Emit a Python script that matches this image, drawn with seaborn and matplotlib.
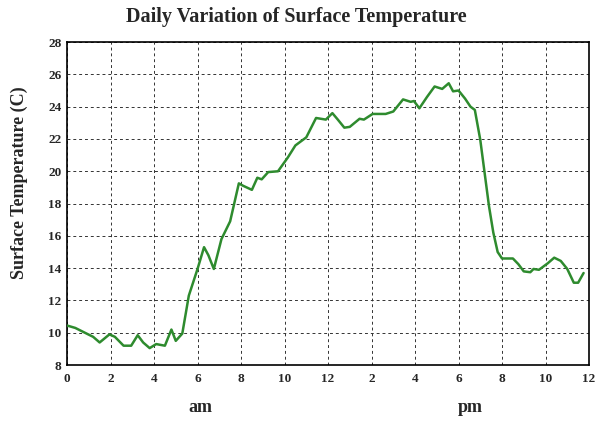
"""Daily variation of surface temperature, redrawn with seaborn."""

import pandas as pd
import matplotlib
matplotlib.use("Agg")
import matplotlib.pyplot as plt
import seaborn as sns
from matplotlib.ticker import MultipleLocator

# hours since midnight
hours = [0.0, 0.38, 0.9, 1.2, 1.5, 1.95, 2.2, 2.6, 2.95, 3.25, 3.5, 3.8, 4.1,
         4.5, 4.8, 5.0, 5.3, 5.6, 6.0, 6.3, 6.5, 6.75, 7.1, 7.5, 7.9, 8.1,
         8.5, 8.75, 8.95, 9.25, 9.7, 10.15, 10.5, 11.0, 11.45, 11.9, 12.2,
         12.45, 12.75, 13.0, 13.45, 13.65, 14.05, 14.65, 15.0, 15.45, 15.8,
         15.95, 16.2, 16.55, 16.9, 17.25, 17.55, 17.75, 18.0, 18.3, 18.55,
         18.75, 19.0, 19.2, 19.4, 19.6, 19.8, 20.0, 20.5, 20.75, 21.0, 21.3,
         21.45, 21.7, 22.1, 22.4, 22.7, 23.0, 23.3, 23.5, 23.75]
temps = [10.45, 10.3, 9.95, 9.75, 9.4, 9.9, 9.75, 9.2, 9.2, 9.85, 9.4, 9.05,
         9.3, 9.2, 10.2, 9.5, 9.95, 12.3, 13.95, 15.3, 14.8, 13.95, 15.8,
         16.9, 19.25, 19.1, 18.85, 19.6, 19.5, 19.95, 20.0, 20.85, 21.6,
         22.1, 23.3, 23.2, 23.6, 23.2, 22.7, 22.75, 23.25, 23.2, 23.55,
         23.55, 23.7, 24.45, 24.3, 24.35, 23.9, 24.6, 25.25, 25.1, 25.45,
         24.95, 25.0, 24.5, 24.0, 23.8, 21.95, 19.9, 17.85, 16.2, 15.0,
         14.6, 14.6, 14.25, 13.8, 13.75, 13.95, 13.9, 14.3, 14.65, 14.45,
         13.95, 13.1, 13.1, 13.7]

tick_pos = list(range(0, 25, 2))
tick_labels = ["0", "2", "4", "6", "8", "10", "12", "2", "4", "6", "8", "10", "12"]

df = pd.DataFrame({"hour": hours, "temp": temps})

sns.set_style("white")
plt.rcParams["font.family"] = ["Liberation Serif", "DejaVu Serif"]
plt.rcParams["font.weight"] = "bold"

fig = plt.figure(figsize=(6, 4.25), dpi=100)
ax = fig.add_axes([0.1117, 0.141, 0.8700, 0.760])

sns.lineplot(data=df, x="hour", y="temp", ax=ax, color="#2e8b2e",
             linewidth=1.8, zorder=3)

ax.set_xlim(0, 24)
ax.set_ylim(8, 28)
ax.set_xticks(tick_pos)
ax.set_xticklabels(tick_labels)
ax.set_yticks(range(8, 29, 2))
ax.xaxis.set_minor_locator(MultipleLocator(0.5))
ax.yaxis.set_minor_locator(MultipleLocator(1))
ax.tick_params(which="both", direction="in", length=4, width=0.8,
               labelsize=9.5, pad=6)
ax.tick_params(which="minor", length=2.5)
ax.tick_params(axis="y", pad=4)
for lbl in ax.get_xticklabels() + ax.get_yticklabels():
    lbl.set_fontweight("bold")

ax.grid(True, which="major", color="#333333", linestyle=(0, (3, 3)),
        linewidth=0.7)
for side in ax.spines.values():
    side.set_color("black")
    side.set_linewidth(1.2)

ax.set_xlabel("")
ax.set_ylabel("Surface Temperature (C)", fontsize=13, fontweight="bold")
ax.yaxis.set_label_coords(-0.075, 0.565)

fig.text(0.494, 1 - 17 / 425, "Daily Variation of Surface Temperature",
         ha="center", va="center", fontsize=14.5, fontweight="bold")

fig.text(200 / 600, 1 - 408 / 425, "am", ha="center", va="center",
         fontsize=13, fontweight="bold")
fig.text(470 / 600, 1 - 408 / 425, "pm", ha="center", va="center",
         fontsize=13, fontweight="bold")

fig.savefig("out.png", dpi=100)
